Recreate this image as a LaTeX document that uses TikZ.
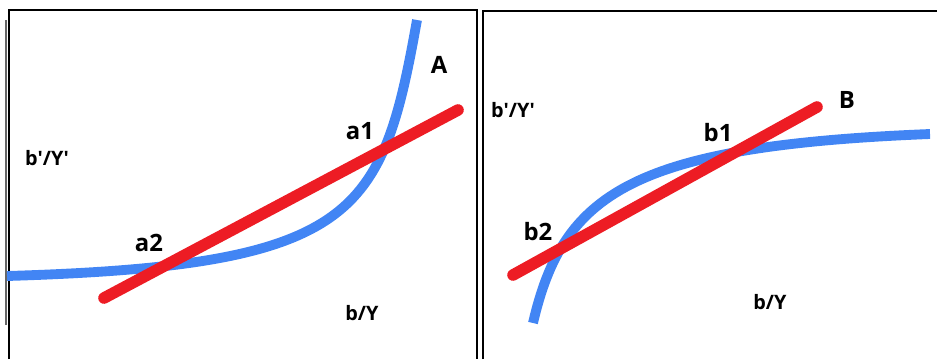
\documentclass[tikz,border=0pt]{standalone}
\usepackage{fontspec}
\setmainfont{Open Sans}
\definecolor{curveblue}{RGB}{66,133,244}
\definecolor{chordred}{RGB}{237,28,36}

\begin{document}
\begin{tikzpicture}[x=0.02cm,y=-0.02cm,
  frame/.style={line width=0.8pt},
  curve/.style={curveblue, line width=5.6pt},
  chord/.style={chordred, line width=6.6pt, line cap=round},
  bigtag/.style={font=\bfseries\fontsize{13.6}{15}\selectfont, inner sep=0pt},
  axtag/.style={font=\bfseries\fontsize{11.3}{13}\selectfont, inner sep=0pt}]
\useasboundingbox (0,0) rectangle (937,359);
% frames
\draw[frame] (9,359) -- (9,10) -- (477,10) -- (477,359);
\draw[frame, black!60] (6,20) -- (6,325);
\draw[frame] (483,359) -- (483,11) -- (937,11);
% panel A
\draw[curve] (7,276) .. controls (357,265.5) and (382,216) .. (417,20);
\draw[chord] (104,298) -- (458,110);
\node[bigtag] (tagA) at (439,65) {A};
\node[bigtag] (a1) at (360,131) {a1};
\node[bigtag] (a2) at (149,243) {a2};
\node[axtag] (ylabA) at (47,158) {b\textquotesingle/Y\textquotesingle};
\node[axtag] (xlabA) at (362,313) {b/Y};
% panel B
\draw[curve] (533,323) .. controls (563,194) and (630,146) .. (930,134);
\draw[chord] (513,275) -- (817,107);
\node[bigtag] (tagB) at (847,100) {B};
\node[bigtag] (b1) at (718,133) {b1};
\node[bigtag] (b2) at (538,232) {b2};
\node[axtag] (ylabB) at (513,110) {b\textquotesingle/Y\textquotesingle};
\node[axtag] (xlabB) at (770,302) {b/Y};
\end{tikzpicture}
\end{document}
